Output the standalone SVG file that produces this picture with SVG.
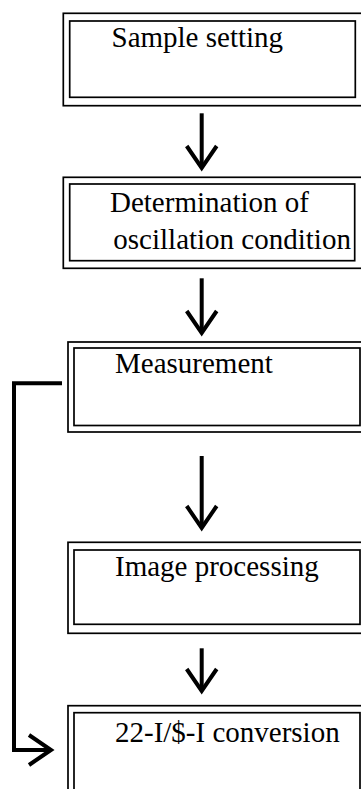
<svg xmlns="http://www.w3.org/2000/svg" width="361" height="789" viewBox="0 0 361 789">
<style>
.box{fill:none;stroke:#000;stroke-width:1.7}
.lbl{font-family:"Liberation Serif","Times New Roman",serif;font-size:29px;fill:#000}
.conn{fill:none;stroke:#000;stroke-width:4;stroke-linejoin:miter}
</style>
<defs>
<marker id="chev" markerUnits="userSpaceOnUse" viewBox="-30 -20 40 40" refX="0" refY="0" markerWidth="40" markerHeight="40" orient="auto" overflow="visible">
<path d="M -22 -15 L 0 0 L -22 15" fill="none" stroke="#000" stroke-width="4"/>
</marker>
</defs>
<rect width="361" height="789" fill="#fff"/>
<g id="n1">
<rect class="box" x="63.3" y="13.3" width="305" height="92.4"/>
<rect class="box" x="69.7" y="21" width="285.6" height="76.3"/>
<text class="lbl" x="111.5" y="46.5">Sample setting</text>
</g>
<g id="n2">
<rect class="box" x="63.3" y="177.3" width="305" height="91"/>
<rect class="box" x="69.7" y="184" width="285" height="76.7"/>
<text class="lbl" x="110" y="211.5">Determination of</text>
<text class="lbl" x="113.3" y="249">oscillation condition</text>
</g>
<g id="n3">
<rect class="box" x="68" y="342" width="305" height="90"/>
<rect class="box" x="74" y="348" width="286" height="77.5"/>
<text class="lbl" x="115" y="373.3">Measurement</text>
</g>
<g id="n4">
<rect class="box" x="68" y="542.3" width="305" height="91"/>
<rect class="box" x="74" y="550" width="286" height="74.3"/>
<text class="lbl" x="115" y="576">Image processing</text>
</g>
<g id="n5">
<rect class="box" x="68" y="705.7" width="305" height="120"/>
<rect class="box" x="74" y="712.7" width="286" height="110"/>
<text class="lbl" x="115" y="741.7">22-I/$-I conversion</text>
</g>
<g id="connectors">
<path class="conn" d="M201.7 113.3 V168" marker-end="url(#chev)"/>
<path class="conn" d="M201.7 278.3 V333" marker-end="url(#chev)"/>
<path class="conn" d="M201.7 456 V528" marker-end="url(#chev)"/>
<path class="conn" d="M201.7 648.3 V691" marker-end="url(#chev)"/>
<path class="conn" d="M62 383.3 H14 V750 H51" stroke-width="4.5" marker-end="url(#chev)"/>
</g>
</svg>
